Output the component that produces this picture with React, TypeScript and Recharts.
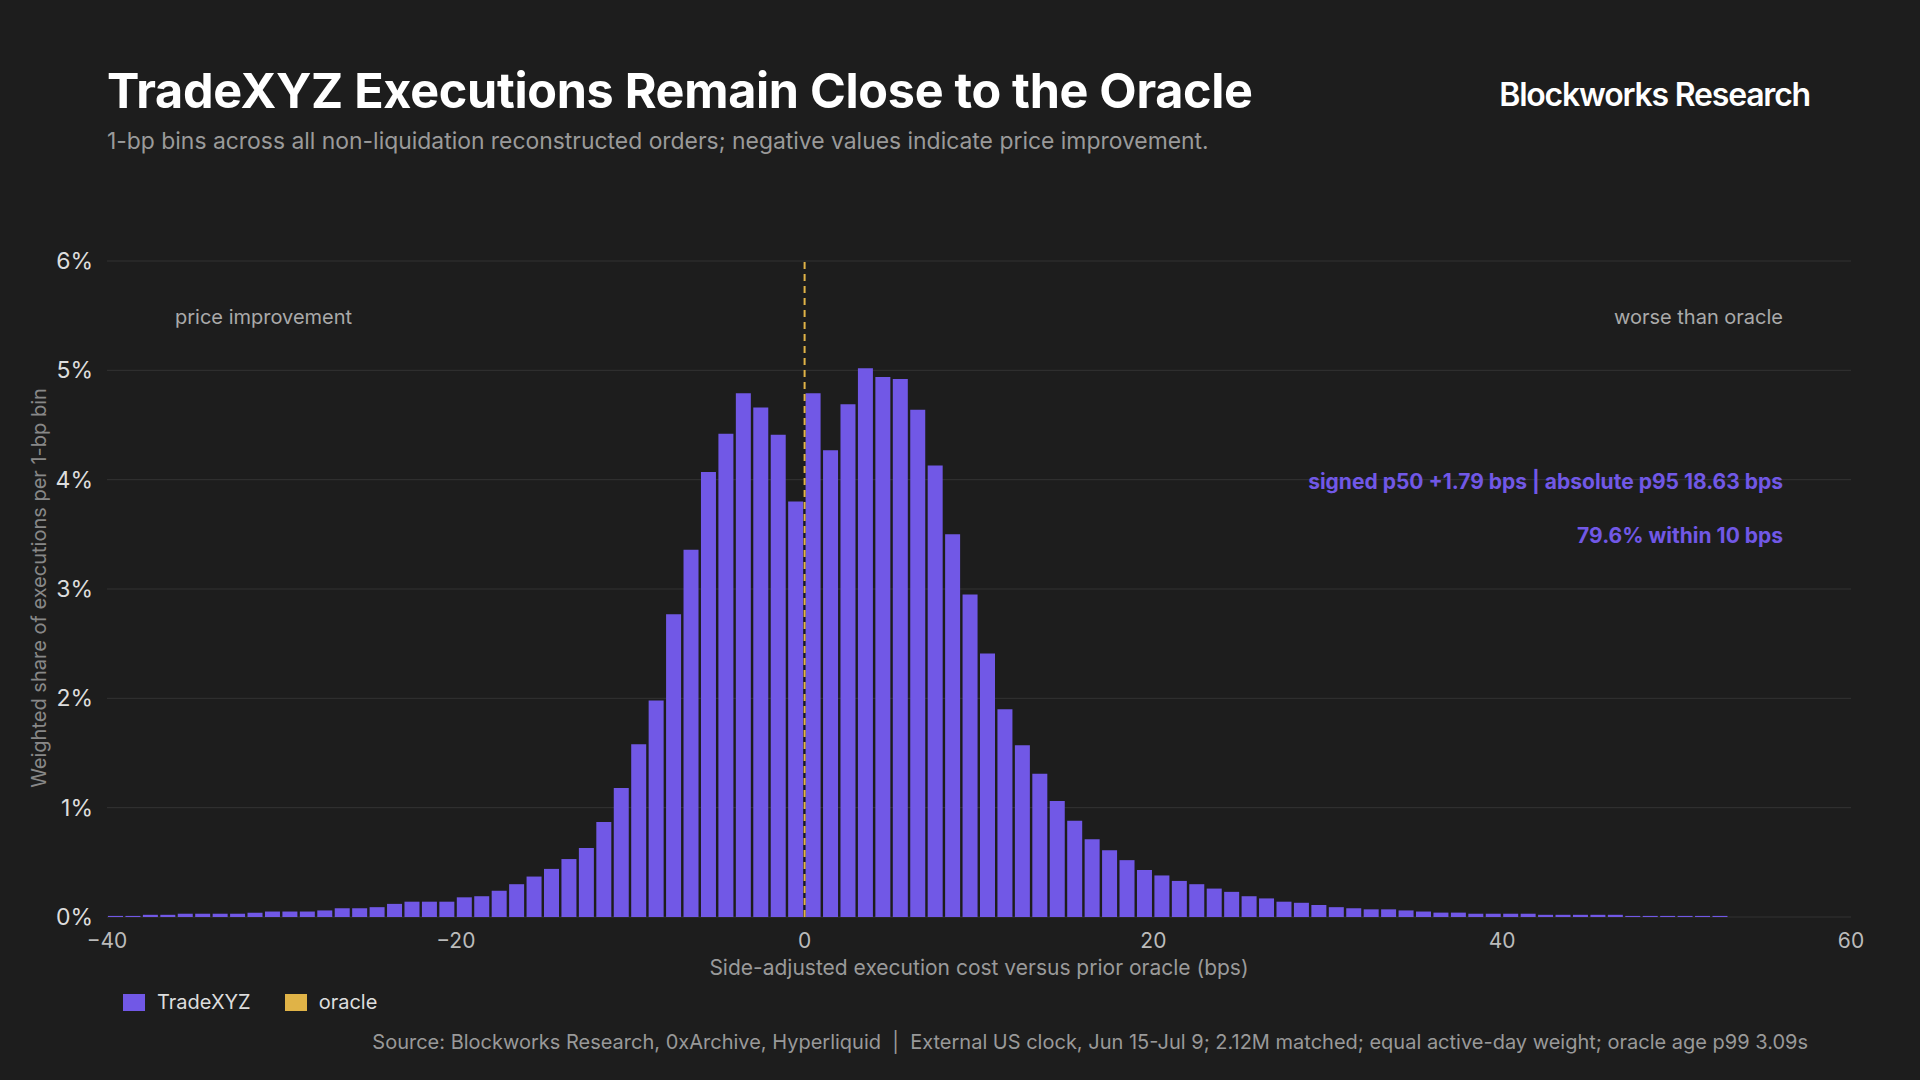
import { BarChart, Bar, XAxis, YAxis, CartesianGrid, ReferenceLine } from "recharts";

// 1-bp bins, left edge of each bin (bps)
const bins: number[] = Array.from({ length: 93 }, (_, i) => i - 40);

// weighted share per bin (%)
const shares: number[] = [
  0.01, 0.01, 0.02, 0.02, 0.03, 0.03, 0.03, 0.03, 0.04, 0.05,
  0.05, 0.05, 0.06, 0.08, 0.08, 0.09, 0.12, 0.14, 0.14, 0.14,
  0.18, 0.19, 0.24, 0.3, 0.37, 0.44, 0.53, 0.63, 0.87, 1.18,
  1.58, 1.98, 2.77, 3.36, 4.07, 4.42, 4.79, 4.66, 4.41, 3.8,
  4.79, 4.27, 4.69, 5.02, 4.94, 4.92, 4.64, 4.13, 3.5, 2.95,
  2.41, 1.9, 1.57, 1.31, 1.06, 0.88, 0.71, 0.61, 0.52, 0.43,
  0.38, 0.33, 0.3, 0.26, 0.23, 0.19, 0.17, 0.14, 0.13, 0.11,
  0.09, 0.08, 0.07, 0.07, 0.06, 0.05, 0.04, 0.04, 0.03, 0.03,
  0.03, 0.03, 0.02, 0.02, 0.02, 0.02, 0.02, 0.01, 0.01, 0.01,
  0.01, 0.01, 0.01,
];

const xTicks = [-40, -20, 0, 20, 40, 60];
const yTicks = [0, 1, 2, 3, 4, 5, 6];

const PURPLE = "#7158e6";
const GOLD = "#e0b347";
const FONT = "Inter, 'Noto Sans', sans-serif";

const data = bins.map((b, i) => ({ x: b + 0.5, share: shares[i] }));

const fmtX = (v: number) => (v < 0 ? `\u2212${Math.abs(v)}` : `${v}`);

export default function App() {
  return (
    <div
      style={{
        position: "fixed",
        inset: 0,
        width: 1920,
        height: 1080,
        background: "#1d1d1d",
        fontFamily: FONT,
        color: "#fff",
        overflow: "hidden",
      }}
    >
      <div style={{ position: "absolute", left: 107, top: 61, fontSize: 48.5, fontWeight: 700, letterSpacing: -0.3 }}>
        TradeXYZ Executions Remain Close to the Oracle
      </div>
      <div style={{ position: "absolute", left: 107, top: 127, fontSize: 22.9, color: "#9a9a9a" }}>
        1-bp bins across all non-liquidation reconstructed orders; negative values indicate price improvement.
      </div>
      <div style={{ position: "absolute", right: 110, top: 75, fontSize: 32, fontWeight: 600, letterSpacing: -1.2 }}>
        Blockworks Research
      </div>

      <div style={{ position: "absolute", left: 0, top: 0 }}>
        <BarChart
          width={1920}
          height={1080}
          data={data}
          margin={{ top: 261, right: 69, bottom: 133, left: 47 }}
          barCategoryGap={0}
        >
          <CartesianGrid vertical={false} stroke="#333" />
          <XAxis
            dataKey="x"
            type="number"
            domain={[-40, 60]}
            ticks={xTicks}
            tickFormatter={fmtX}
            tick={{ fill: "#bbb", fontSize: 21, fontFamily: FONT }}
            axisLine={false}
            tickLine={false}
            tickMargin={10}
            label={{
              value: "Side-adjusted execution cost versus prior oracle (bps)",
              position: "insideBottom",
              offset: -28,
              fill: "#9a9a9a",
              fontSize: 21,
              fontFamily: FONT,
            }}
          />
          <YAxis
            domain={[0, 6]}
            ticks={yTicks}
            tickFormatter={(v: number) => `${v}%`}
            tick={{ fill: "#ddd", fontSize: 23, fontFamily: FONT }}
            axisLine={false}
            tickLine={false}
            width={60}
            tickMargin={8}
          />
          <Bar dataKey="share" fill={PURPLE} barSize={15} isAnimationActive={false} />
          <ReferenceLine x={0} stroke={GOLD} strokeDasharray="7 5" strokeWidth={2} />
        </BarChart>
      </div>

      <div
        style={{
          position: "absolute",
          left: 39,
          top: 588,
          transform: "translate(-50%, -50%) rotate(-90deg)",
          whiteSpace: "nowrap",
          fontSize: 20,
          color: "#888",
        }}
      >
        Weighted share of executions per 1-bp bin
      </div>

      <div style={{ position: "absolute", left: 175, top: 305, fontSize: 20, color: "#aaa" }}>price improvement</div>
      <div style={{ position: "absolute", right: 137, top: 305, fontSize: 20, color: "#aaa" }}>worse than oracle</div>
      <div style={{ position: "absolute", right: 137, top: 469, fontSize: 21, fontWeight: 700, color: PURPLE }}>
        signed p50 +1.79 bps | absolute p95 18.63 bps
      </div>
      <div style={{ position: "absolute", right: 137, top: 523, fontSize: 21, fontWeight: 700, color: PURPLE }}>
        79.6% within 10 bps
      </div>

      <div style={{ position: "absolute", left: 123, top: 990, display: "flex", gap: 34, fontSize: 20, color: "#ddd" }}>
        <span style={{ display: "flex", alignItems: "center", gap: 12 }}>
          <span style={{ width: 22, height: 17, background: PURPLE, display: "inline-block" }} />
          TradeXYZ
        </span>
        <span style={{ display: "flex", alignItems: "center", gap: 12 }}>
          <span style={{ width: 22, height: 17, background: GOLD, display: "inline-block" }} />
          oracle
        </span>
      </div>

      <div style={{ position: "absolute", right: 112, top: 1030, fontSize: 20, color: "#999" }}>
        Source: Blockworks Research, 0xArchive, Hyperliquid &nbsp;|&nbsp; External US clock, Jun 15-Jul 9; 2.12M matched; equal active-day weight; oracle age p99 3.09s
      </div>
    </div>
  );
}
